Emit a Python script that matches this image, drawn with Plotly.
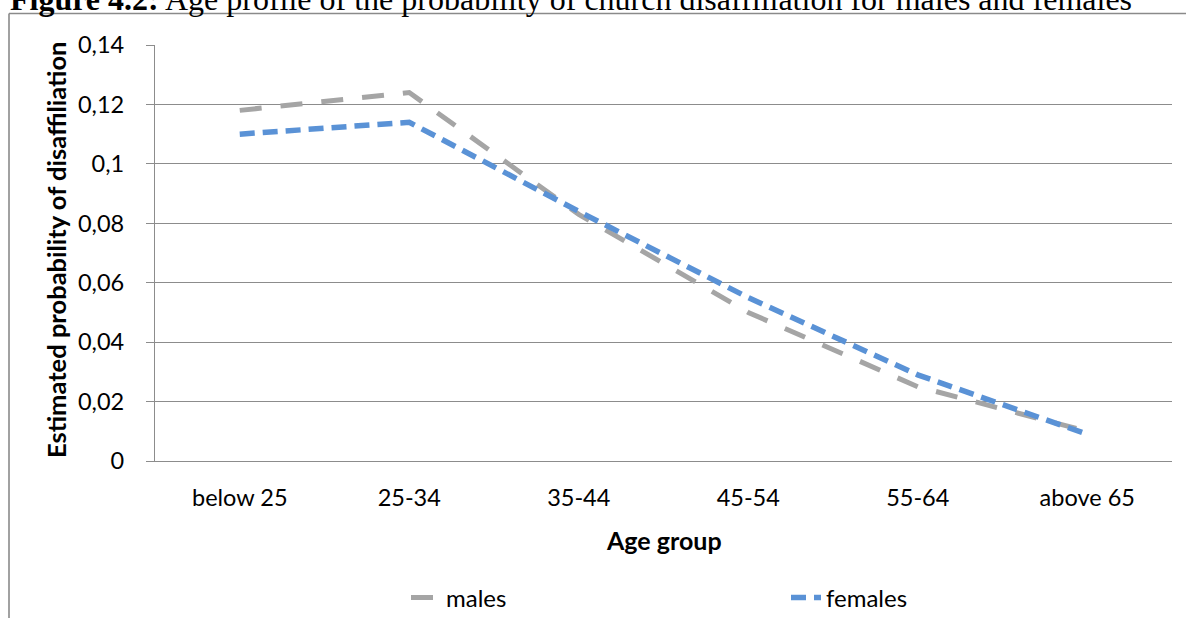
import plotly.graph_objects as go

# ---- data ----
age_groups = ["below 25", "25-34", "35-44", "45-54", "55-64", "above 65"]
males = [0.118, 0.124, 0.083, 0.050, 0.025, 0.010]
females = [0.110, 0.114, 0.084, 0.055, 0.029, 0.009]
y_tick_vals = [0, 0.02, 0.04, 0.06, 0.08, 0.10, 0.12, 0.14]
y_tick_text = ["0", "0,02", "0,04", "0,06", "0,08", "0,1", "0,12", "0,14"]
series_names = ["males", "females"]

W, H = 1186, 618
L, R, T, B = 155, 1172, 45, 461  # plot area in px


def px_x(px):
    return (px - L) / (R - L)


def px_y(py):
    return (B - py) / (B - T)


fig = go.Figure()
fig.add_trace(go.Scatter(
    x=age_groups, y=males, name=series_names[0], mode="lines",
    line=dict(color="#A5A5A5", width=5, dash="22px,19px"),
))
fig.add_trace(go.Scatter(
    x=age_groups, y=females, name=series_names[1], mode="lines",
    line=dict(color="#5A92D6", width=5.5, dash="15px,8px"),
))

grid = "#8C8C8C"
fig.update_layout(
    width=W, height=H,
    margin=dict(l=L, r=W - R, t=T, b=H - B, pad=0, autoexpand=False),
    paper_bgcolor="white", plot_bgcolor="white",
    font=dict(family="Lato", size=23, color="#000000"),
    showlegend=True,
    legend=dict(
        orientation="h", x=px_x(406), xanchor="left",
        y=px_y(598), yanchor="middle",
        entrywidth=335, entrywidthmode="pixels",
        font=dict(family="Lato", size=24, color="#000000"),
        bgcolor="rgba(0,0,0,0)", tracegroupgap=0,
    ),
    xaxis=dict(
        type="category", range=[-0.5, 5.5], automargin=False,
        showgrid=False, zeroline=False,
        showline=True, linecolor=grid, linewidth=1.2,
        ticks="", ticklabelstandoff=16,
        tickfont=dict(family="Lato", size=23.5),
    ),
    yaxis=dict(
        range=[0, 0.14], tickvals=y_tick_vals, ticktext=y_tick_text,
        automargin=False,
        showgrid=True, gridcolor=grid, gridwidth=1.2,
        zeroline=False, showline=True, linecolor=grid, linewidth=1.2,
        ticks="outside", ticklen=8, tickcolor=grid, tickwidth=1.2,
        ticklabelstandoff=17,
        tickfont=dict(family="Lato", size=23.5),
    ),
)

annotations = [
    dict(text="<b>Figure 4.2:</b> Age profile of the probability of church disaffiliation for males and females",
         xref="paper", yref="paper", x=px_x(8), y=px_y(19), xanchor="left", yanchor="bottom",
         showarrow=False, font=dict(family="Liberation Serif", size=32, color="#000000")),
    dict(text="<b>Estimated probability of disaffiliation</b>",
         xref="paper", yref="paper", x=px_x(56), y=px_y(250), xanchor="center", yanchor="middle",
         textangle=-90, showarrow=False, font=dict(family="Lato", size=25.5, color="#000000")),
    dict(text="<b>Age group</b>",
         xref="paper", yref="paper", x=px_x(664), y=px_y(540), xanchor="center", yanchor="middle",
         showarrow=False, font=dict(family="Lato", size=25, color="#000000")),
]
fig.update_layout(annotations=annotations)

border = "#8A8A8A"
fig.update_layout(shapes=[
    dict(type="line", xref="paper", yref="paper", x0=px_x(9), x1=px_x(W + 5),
         y0=px_y(13.5), y1=px_y(13.5), line=dict(color=border, width=1.6)),
    dict(type="line", xref="paper", yref="paper", x0=px_x(9), x1=px_x(9),
         y0=px_y(13.5), y1=px_y(H + 5), line=dict(color=border, width=1.6)),
])

fig.write_html("out.html")
